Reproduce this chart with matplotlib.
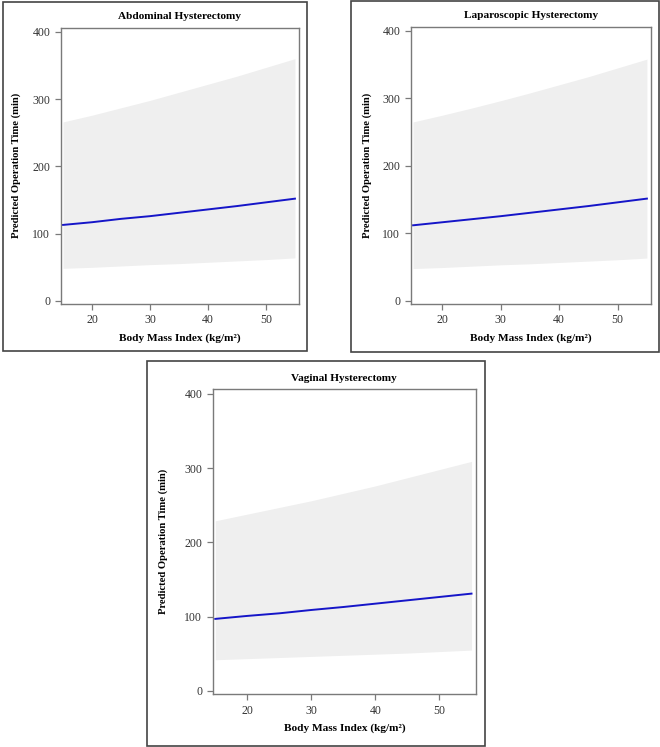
import matplotlib.pyplot as plt
from matplotlib.patches import Rectangle

plt.rcParams['font.family'] = ['Liberation Serif', 'DejaVu Serif']

# BMI grid shared by all three panels
bmi = [15, 20, 25, 30, 35, 40, 45, 50, 55]

# Abdominal hysterectomy: prediction and interval (min)
abd_fit = [113, 117, 122, 126, 131, 136, 141, 146.5, 152]
abd_low = [48.5, 50, 52, 54, 55.5, 57.5, 59.5, 61.5, 64]
abd_high = [266, 276, 287, 298, 310, 322, 334, 347, 360]

# Laparoscopic hysterectomy
lap_fit = [112, 116.5, 121, 125.5, 130.5, 135.5, 140.5, 146, 151.5]
lap_low = [48, 49.5, 51.5, 53.5, 55, 57, 59, 61, 63.5]
lap_high = [265, 275, 285.5, 296.5, 308, 320, 332, 345, 358]

# Vaginal hysterectomy
vag_fit = [97, 101, 104.5, 109, 113, 117.5, 122, 126.5, 131]
vag_low = [42, 43.5, 45, 46.5, 48, 49.5, 51, 53, 55]
vag_high = [229, 238, 247, 256, 266, 276, 287, 298, 309]

W, H = 660, 747
fig = plt.figure(figsize=(W / 100, H / 100), dpi=100)


def px_box(x0, y0, x1, y1):
    # pixel box (top-left origin) -> figure fraction [l, b, w, h]
    return [x0 / W, 1 - y1 / H, (x1 - x0) / W, (y1 - y0) / H]


def panel(rect, title, fit, low, high, ylab_x):
    ax = fig.add_axes(rect)
    ax.fill_between(bmi, low, high, color='#efefef', lw=0)
    ax.plot(bmi, fit, color='#1515c8', lw=1.4)
    ax.set_xlim(14.6, 55.7)
    ax.set_ylim(-4.5, 406)
    ax.set_xticks([20, 30, 40, 50])
    ax.set_yticks([0, 100, 200, 300, 400])
    for s in ax.spines.values():
        s.set_color('#7a7a7a')
        s.set_linewidth(1.0)
    ax.tick_params(colors='#7a7a7a', labelcolor='#333333', labelsize=8.5,
                   length=4, width=0.9)
    ax.set_title(title, fontsize=8.1, fontweight='bold', pad=6)
    ax.set_xlabel('Body Mass Index (kg/m²)', fontsize=8.1, fontweight='bold',
                  labelpad=5)
    ax.set_ylabel('Predicted Operation Time (min)', fontsize=7.7,
                  fontweight='bold')
    ax.yaxis.set_label_coords(ylab_x, 0.5)
    return ax


panel(px_box(60.7, 27.7, 299, 304), 'Abdominal Hysterectomy',
      abd_fit, abd_low, abd_high, -0.168)
panel(px_box(410.7, 26.7, 651, 304), 'Laparoscopic Hysterectomy',
      lap_fit, lap_low, lap_high, -0.163)
panel(px_box(212.7, 389.3, 476, 694.3), 'Vaginal Hysterectomy',
      vag_fit, vag_low, vag_high, -0.168)

# outer frames around each panel
for x0, y0, x1, y1 in [(2.5, 2, 307, 351), (350.7, 1, 659, 352),
                       (147, 360.7, 485, 745.5)]:
    l, b, w, h = px_box(x0, y0, x1, y1)
    fig.patches.append(Rectangle((l, b), w, h, transform=fig.transFigure,
                                 fill=False, edgecolor='#444444', lw=1.2))

fig.savefig('out.png', dpi=100)
